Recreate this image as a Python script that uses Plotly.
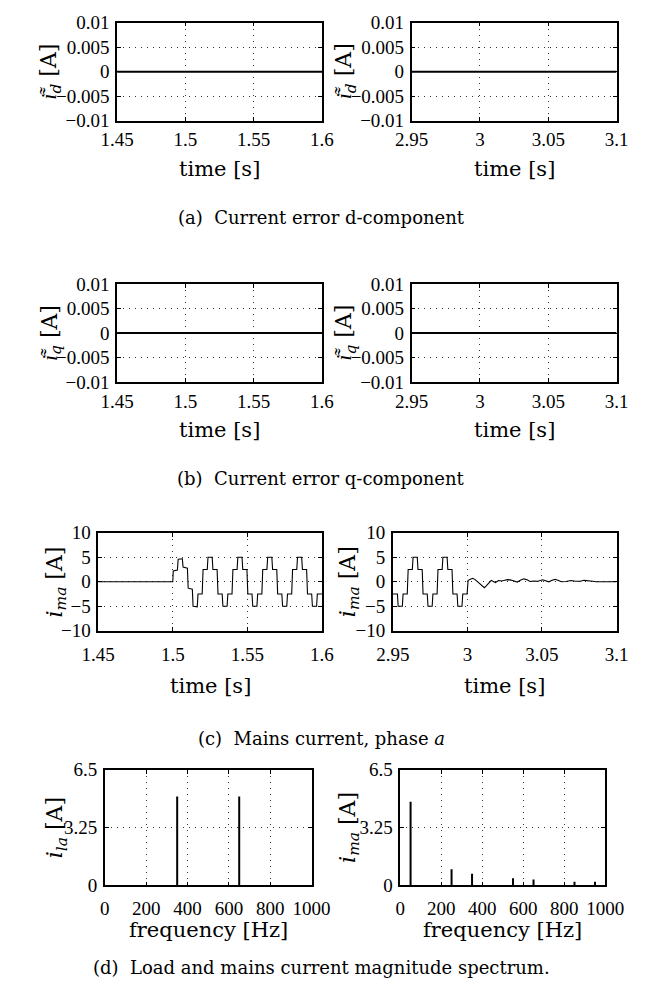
import plotly.graph_objects as go

# ---------------- data ----------------
# (a) current error d-component
t_err_left = [1.45, 1.6]
id_err_left = [0.0, 0.0]
t_err_right = [2.95, 3.1]
id_err_right = [0.0, 0.0]
# (b) current error q-component
iq_err_left = [0.0, 0.0]
iq_err_right = [0.0, 0.0]

# (c) mains current, phase a  (breakpoints)
t_ma_left = [1.45, 1.5, 1.5003, 1.5031, 1.5036, 1.5064, 1.5069, 1.5098, 1.5103, 1.5131, 1.5136, 1.5164, 1.5169, 1.5197,
             1.5203, 1.5231, 1.5236, 1.5264, 1.5269, 1.5297, 1.5303, 1.5331, 1.5336, 1.5364, 1.5369, 1.5397,
             1.5403, 1.5431, 1.5436, 1.5464, 1.5469, 1.5497, 1.5503, 1.5531, 1.5536, 1.5564, 1.5569, 1.5597,
             1.5603, 1.5631, 1.5636, 1.5664, 1.5669, 1.5697, 1.5703, 1.5731, 1.5736, 1.5764, 1.5769, 1.5797,
             1.5803, 1.5831, 1.5836, 1.5864, 1.5869, 1.5897, 1.5903, 1.5931, 1.5936, 1.5964, 1.5969, 1.6]
i_ma_left = [0.0, 0.0, 2.2, 2.4, 4.6, 4.7, 3.0, 2.8, -1.3, -1.5, -5.0, -5.1, -2.5, -2.5,
             2.5, 2.5, 5.0, 5.0, 2.5, 2.5, -2.5, -2.5, -5.0, -5.0, -2.5, -2.5,
             2.5, 2.5, 5.0, 5.0, 2.5, 2.5, -2.5, -2.5, -5.0, -5.0, -2.5, -2.5,
             2.5, 2.5, 5.0, 5.0, 2.5, 2.5, -2.5, -2.5, -5.0, -5.0, -2.5, -2.5,
             2.5, 2.5, 5.0, 5.0, 2.5, 2.5, -2.5, -2.5, -5.0, -5.0, -2.5, -2.5]

t_ma_right = [2.95, 2.9531, 2.9536, 2.9564, 2.9569, 2.9597,
              2.9603, 2.9631, 2.9636, 2.9664, 2.9669, 2.9697, 2.9703, 2.9731, 2.9736, 2.9764, 2.9769, 2.9797,
              2.9803, 2.9831, 2.9836, 2.9864, 2.9869, 2.9897, 2.9903, 2.9931, 2.9936, 2.9964, 2.9969, 2.9998,
              3.0005, 3.0019, 3.0034, 3.0050, 3.0061, 3.0075, 3.0093, 3.0114, 3.0125, 3.0135, 3.0150, 3.0160,
              3.0177, 3.0188, 3.0209, 3.0230, 3.0250, 3.0270, 3.0293, 3.0315, 3.0335, 3.0355, 3.0378, 3.0400,
              3.0420, 3.0445, 3.0473, 3.0504, 3.0525, 3.0546, 3.0568, 3.0589, 3.0610, 3.0631, 3.0660, 3.0694,
              3.0725, 3.0758, 3.0781, 3.0810, 3.0840, 3.0863, 3.0900, 3.0950, 3.1]
i_ma_right = [-2.5, -2.5, -5.0, -5.0, -2.5, -2.5,
              2.5, 2.5, 5.0, 5.0, 2.5, 2.5, -2.5, -2.5, -5.0, -5.0, -2.5, -2.5,
              2.5, 2.5, 5.0, 5.0, 2.5, 2.5, -2.5, -2.5, -5.0, -5.0, -2.5, -2.5,
              0.3, 0.5, 0.7, 0.5, 0.2, -0.3, -0.7, -1.2, -0.9, -0.5, 0.1, 0.3,
              0.0, -0.15, 0.25, 0.15, 0.3, 0.45, 0.35, 0.1, -0.05, 0.3, 0.6, 0.4,
              0.05, 0.15, 0.1, 0.4, 0.2, 0.0, 0.3, 0.5, 0.25, 0.0, 0.05, 0.25,
              0.1, 0.1, 0.3, 0.25, 0.1, 0.0, 0.05, 0.0, 0.0]

# (d) magnitude spectra
freq_la = [350, 650]
mag_la = [5.0, 5.0]
freq_ma = [50, 250, 350, 550, 650, 850, 950]
mag_ma = [4.7, 0.9, 0.65, 0.4, 0.33, 0.2, 0.2]

# tick labels
err_ticks = [-0.01, -0.005, 0, 0.005, 0.01]
err_ticktext = ["\u22120.01", "\u22120.005", "0", "0.005", "0.01"]
time_ticks_left = [1.45, 1.5, 1.55, 1.6]
time_ticktext_left = ["1.45", "1.5", "1.55", "1.6"]
time_ticks_right = [2.95, 3.0, 3.05, 3.1]
time_ticktext_right = ["2.95", "3", "3.05", "3.1"]
cur_ticks = [-10, -5, 0, 5, 10]
cur_ticktext = ["\u221210", "\u22125", "0", "5", "10"]
freq_ticks = [0, 200, 400, 600, 800, 1000]
mag_ticks = [0, 3.25, 6.5]
mag_ticktext = ["0", "3.25", "6.5"]

captions = ["(a)  Current error d-component",
            "(b)  Current error q-component",
            "(c)  Mains current, phase <i>a</i>",
            "(d)  Load and mains current magnitude spectrum."]

# ---------------- layout geometry (pixels) ----------------
W, H = 645, 1005
def fx(p):
    return p / W
def fy(p):
    return 1 - p / H

# (left, right, top, bottom)
boxes = [
    (106, 323, 13, 113), (418, 635, 13, 113),
    (106, 323, 280, 380), (418, 635, 280, 380),
    (86, 323, 534, 634), (398, 635, 534, 634),
    (93, 312, 776, 894), (406, 623, 776, 894),
]

TICKFONT = dict(family="'Liberation Serif', 'Times New Roman', Times, serif", size=19, color="black")
TEXTFONT = "'DejaVu Serif', serif"

fig = go.Figure()

def add_line(k, x, y, width=1.0):
    fig.add_trace(go.Scatter(x=x, y=y, mode="lines", line=dict(color="black", width=width),
                             xaxis="x" if k == 1 else f"x{k}", yaxis="y" if k == 1 else f"y{k}",
                             showlegend=False, hoverinfo="skip"))

def add_stems(k, f, m):
    xs, ys = [], []
    for fi, mi in zip(f, m):
        xs += [fi, fi, None]
        ys += [0, mi, None]
    add_line(k, xs, ys, width=2)

add_line(1, t_err_left, id_err_left, 2)
add_line(2, t_err_right, id_err_right, 2)
add_line(3, t_err_left, iq_err_left, 2)
add_line(4, t_err_right, iq_err_right, 2)
add_line(5, t_ma_left, i_ma_left, 1.1)
add_line(6, t_ma_right, i_ma_right, 1.1)
add_stems(7, freq_la, mag_la)
add_stems(8, freq_ma, mag_ma)

axis_common = dict(showline=True, linecolor="black", linewidth=1.5, mirror="ticks",
                   ticks="inside", ticklen=4, tickcolor="black", tickwidth=1,
                   showgrid=True, gridcolor="#333", griddash="1px,5px", gridwidth=1,
                   zeroline=False, tickfont=TICKFONT, fixedrange=True)

xspecs = [
    (time_ticks_left, time_ticktext_left, [1.45, 1.6]),
    (time_ticks_right, time_ticktext_right, [2.95, 3.1]),
    (time_ticks_left, time_ticktext_left, [1.45, 1.6]),
    (time_ticks_right, time_ticktext_right, [2.95, 3.1]),
    (time_ticks_left, time_ticktext_left, [1.45, 1.6]),
    (time_ticks_right, time_ticktext_right, [2.95, 3.1]),
    (freq_ticks, [str(v) for v in freq_ticks], [0, 1000]),
    (freq_ticks, [str(v) for v in freq_ticks], [0, 1000]),
]
yspecs = [
    (err_ticks, err_ticktext, [-0.01, 0.01]),
    (err_ticks, err_ticktext, [-0.01, 0.01]),
    (err_ticks, err_ticktext, [-0.01, 0.01]),
    (err_ticks, err_ticktext, [-0.01, 0.01]),
    (cur_ticks, cur_ticktext, [-10, 10]),
    (cur_ticks, cur_ticktext, [-10, 10]),
    (mag_ticks, mag_ticktext, [0, 6.5]),
    (mag_ticks, mag_ticktext, [0, 6.5]),
]
xstand = [1, 1, 1, 1, 6, 6, 5, 5]

layout = dict(width=W, height=H, margin=dict(l=0, r=0, t=0, b=0),
              paper_bgcolor="white", plot_bgcolor="white", showlegend=False)
for i, (l, r, t, b) in enumerate(boxes):
    k = i + 1
    xn = "xaxis" if k == 1 else f"xaxis{k}"
    yn = "yaxis" if k == 1 else f"yaxis{k}"
    xv, xt, xr = xspecs[i]
    yv, yt, yr = yspecs[i]
    layout[xn] = dict(axis_common, domain=[fx(l), fx(r)], range=xr, tickvals=xv, ticktext=xt,
                      anchor="y" if k == 1 else f"y{k}", ticklabelstandoff=xstand[i])
    layout[yn] = dict(axis_common, domain=[fy(b), fy(t)], range=yr, tickvals=yv, ticktext=yt,
                      anchor="x" if k == 1 else f"x{k}", ticklabelstandoff=2)
fig.update_layout(**layout)

ann = []
def text(x, y, s, size, angle=0):
    ann.append(dict(x=fx(x), y=fy(y), xref="paper", yref="paper", text=s, showarrow=False,
                    textangle=angle, xanchor="center", yanchor="middle",
                    font=dict(family=TEXTFONT, size=size, color="black")))

ytitles = ["<i>i\u034c</i><sub><i>d</i></sub> [A]", "<i>i\u034c</i><sub><i>d</i></sub> [A]",
           "<i>i\u034c</i><sub><i>q</i></sub> [A]", "<i>i\u034c</i><sub><i>q</i></sub> [A]",
           "<i>i</i><sub><i>ma</i></sub> [A]", "<i>i</i><sub><i>ma</i></sub> [A]",
           "<i>i</i><sub><i>la</i></sub> [A]", "<i>i</i><sub><i>ma</i></sub> [A]"]
ytitle_x = [36, 348, 36, 348, 42, 352, 42, 352]
xtitles = ["time [s]"] * 6 + ["frequency [Hz]"] * 2
xtitle_dy = [49, 49, 49, 49, 56, 56, 46, 46]
for i, (l, r, t, b) in enumerate(boxes):
    text(ytitle_x[i], (t + b) / 2, ytitles[i], 22, -90)
    text((l + r) / 2, b + xtitle_dy[i], xtitles[i], 21)

for s, y in zip(captions, [212, 478, 744, 978]):
    text(322, y, s, 18)

fig.update_layout(annotations=ann)
fig.write_html("out.html")
